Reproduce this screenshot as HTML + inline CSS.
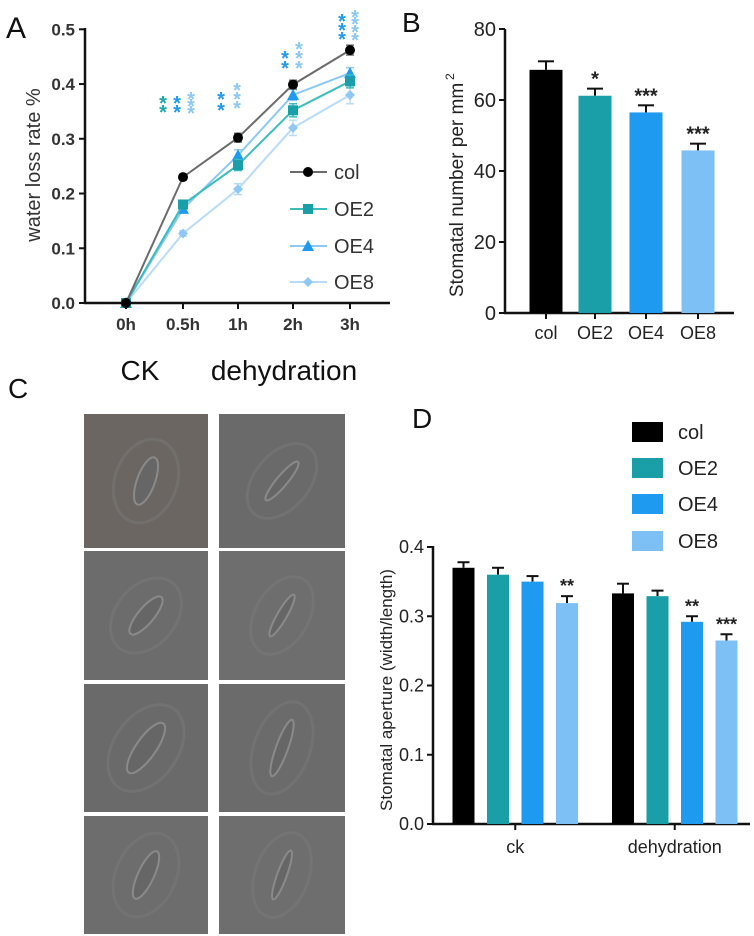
<!DOCTYPE html>
<html><head><meta charset="utf-8">
<style>
html,body{margin:0;padding:0;background:#fff;}
svg{display:block;font-family:"Liberation Sans",Arial,sans-serif;}
</style></head>
<body>
<svg id="fig" width="754" height="936" viewBox="0 0 754 936" xmlns="http://www.w3.org/2000/svg">
<g id="A"></g>
<g id="B"></g>
<g id="C"></g>
<g id="D"></g>
</svg>
<script>
// ---------- Panel A data ----------
const timeLabels = ["0h","0.5h","1h","2h","3h"];
const colLoss = [0, 0.23, 0.302, 0.399, 0.462];
const oe2Loss = [0, 0.18, 0.252, 0.352, 0.405];
const oe4Loss = [0, 0.172, 0.27, 0.38, 0.42];
const oe8Loss = [0, 0.127, 0.208, 0.32, 0.38];
const colLossErr = [0, 0.005, 0.008, 0.008, 0.009];
const oe2LossErr = [0, 0.006, 0.01, 0.012, 0.012];
const oe4LossErr = [0, 0.006, 0.01, 0.01, 0.01];
const oe8LossErr = [0, 0.005, 0.01, 0.014, 0.016];
const aTicks = [0, 0.1, 0.2, 0.3, 0.4, 0.5];
// ---------- Panel B data ----------
const bCats = ["col","OE2","OE4","OE8"];
const bVals = [68.5, 61.2, 56.5, 45.8];
const bErrs = [2.4, 2.0, 2.0, 1.9];
const bStars = ["", "*", "***", "***"];
const bTicks = [0, 20, 40, 60, 80];
// ---------- Panel D data ----------
const dGroups = ["ck","dehydration"];
const dSeries = ["col","OE2","OE4","OE8"];
const dCk = [0.37, 0.36, 0.35, 0.319];
const dDehyd = [0.333, 0.329, 0.292, 0.265];
const dCkErr = [0.008, 0.01, 0.008, 0.01];
const dDehydErr = [0.014, 0.008, 0.008, 0.009];
const dCkStars = ["", "", "", "**"];
const dDehydStars = ["", "", "**", "***"];
const dTicks = [0, 0.1, 0.2, 0.3, 0.4];

const NS = "http://www.w3.org/2000/svg";
function mk(parent, tag, attrs, text){
  const e = document.createElementNS(NS, tag);
  for (const k in attrs) e.setAttribute(k, attrs[k]);
  if (text !== undefined) e.textContent = text;
  parent.appendChild(e);
  return e;
}
const colors = ["#000000","#1a9ea8","#1e9af0","#7cc0f5"];
const lineColors = ["#6b6b6b","#3cbcbc","#8cc8f4","#b8dcf8"];

// ================= Panel A =================
(function(){
  const g = document.getElementById("A");
  const y = v => 303 - v * 547.4;
  const xs = [126, 183, 238, 293, 350];
  const x = i => xs[i];
  let t = mk(g,"text",{x:6,y:38,"font-size":30,fill:"#111"},"A");
  
  
  let ax = mk(g,"line",{x1:85,y1:28,x2:85,y2:304,stroke:"#111","stroke-width":2.5});
   
  ax = mk(g,"line",{x1:84,y1:303,x2:390,y2:303,stroke:"#111","stroke-width":2.5});
   
  aTicks.forEach(v=>{
    mk(g,"line",{x1:79,y1:y(v),x2:85,y2:y(v),stroke:"#111","stroke-width":2});
    const l = mk(g,"text",{x:75,y:y(v)+6,"font-size":17,"font-weight":"bold","text-anchor":"end",fill:"#333"},v.toFixed(1));
     
  });
  timeLabels.forEach((s,i)=>{
    mk(g,"line",{x1:x(i),y1:303,x2:x(i),y2:309,stroke:"#111","stroke-width":2});
    const l = mk(g,"text",{x:x(i),y:330,"font-size":17,"font-weight":"bold","text-anchor":"middle",fill:"#333"},s);
     
  });
  const yt = mk(g,"text",{x:0,y:0,"font-size":20,"text-anchor":"middle",fill:"#333",transform:"translate(40,165) rotate(-90)"},"water loss rate %");
   

  const series = [colLoss, oe2Loss, oe4Loss, oe8Loss];
  const errs = [colLossErr, oe2LossErr, oe4LossErr, oe8LossErr];
  const names = ["col","OE2","OE4","OE8"];
  for (let s = 3; s >= 0; s--){
    const d = series[s].map((v,i)=>x(i)+","+y(v)).join(" ");
    const pl = mk(g,"polyline",{points:d,fill:"none",stroke:lineColors[s],"stroke-width":2});
    
    
    series[s].forEach((v,i)=>{
      const e = errs[s][i];
      if (e>0){
        mk(g,"line",{x1:x(i),y1:y(v-e),x2:x(i),y2:y(v+e),stroke:lineColors[s],"stroke-width":1.5});
        mk(g,"line",{x1:x(i)-4,y1:y(v-e),x2:x(i)+4,y2:y(v-e),stroke:lineColors[s],"stroke-width":1.5});
        mk(g,"line",{x1:x(i)-4,y1:y(v+e),x2:x(i)+4,y2:y(v+e),stroke:lineColors[s],"stroke-width":1.5});
      }
      let m;
      if (s===0) m = mk(g,"circle",{cx:x(i),cy:y(v),r:5,fill:"#000"});
      else if (s===1) m = mk(g,"rect",{x:x(i)-5,y:y(v)-5,width:10,height:10,fill:colors[1]});
      else if (s===2) m = mk(g,"polygon",{points:`${x(i)},${y(v)-6} ${x(i)-6},${y(v)+5} ${x(i)+6},${y(v)+5}`,fill:colors[2]});
      else m = mk(g,"polygon",{points:`${x(i)},${y(v)-5} ${x(i)+5},${y(v)} ${x(i)},${y(v)+5} ${x(i)-5},${y(v)}`,fill:"#8ec8f4"});
      
      
    });
  }
  // significance stars
  const stars = [
    [163,[101,110],"#1aa8a8"],[177,[101,110],"#1e9af0"],[191,[97,104,111],"#8cc8f4"],
    [221,[97,108],"#1e9af0"],[237,[88,97,106],"#8cc8f4"],
    [285,[56,66],"#1e9af0"],[299,[47,56,66],"#8cc8f4"],
    [342,[19,28,37],"#1e9af0"],[355,[15,22,30,38],"#8cc8f4"]
  ];
  stars.forEach(([sx,ys,c])=>ys.forEach(sy=>{
    const st = mk(g,"text",{x:sx,y:sy+9,"font-size":20,"font-weight":"bold","text-anchor":"middle",fill:c},"*");
     
  }));
  // legend
  const ly = [172,209,246,282];
  names.forEach((n,i)=>{
    const lg = mk(g,"g",{});
    
    
    mk(lg,"line",{x1:290,y1:ly[i],x2:327,y2:ly[i],stroke:lineColors[i],"stroke-width":2});
    const cx=308, cy=ly[i];
    if (i===0) mk(lg,"circle",{cx,cy,r:5,fill:"#000"});
    else if (i===1) mk(lg,"rect",{x:cx-5,y:cy-5,width:10,height:10,fill:colors[1]});
    else if (i===2) mk(lg,"polygon",{points:`${cx},${cy-6} ${cx-6},${cy+5} ${cx+6},${cy+5}`,fill:colors[2]});
    else mk(lg,"polygon",{points:`${cx},${cy-5} ${cx+5},${cy} ${cx},${cy+5} ${cx-5},${cy}`,fill:"#8ec8f4"});
    mk(lg,"text",{x:334,y:cy+7,"font-size":20,fill:"#333"},n);
  });
})();

// ================= Panel B =================
(function(){
  const g = document.getElementById("B");
  const y = v => 313 - v * 3.55;
  const cx = [546, 595, 646, 698];
  const bw = 33;
  let t = mk(g,"text",{x:402,y:32,"font-size":28,fill:"#111"},"B");
   
  let ax = mk(g,"line",{x1:505,y1:29,x2:505,y2:314,stroke:"#111","stroke-width":2.5});
   
  ax = mk(g,"line",{x1:504,y1:313,x2:734,y2:313,stroke:"#111","stroke-width":2.5});
   
  bTicks.forEach(v=>{
    mk(g,"line",{x1:499,y1:y(v),x2:505,y2:y(v),stroke:"#111","stroke-width":2});
    const l = mk(g,"text",{x:496,y:y(v)+7,"font-size":20,"text-anchor":"end",fill:"#222"},v);
     
  });
  const yt = mk(g,"text",{x:0,y:0,"font-size":19,"text-anchor":"middle",fill:"#222",transform:"translate(463,190) rotate(-90)"},"Stomatal number per mm");
   
  const sup = mk(g,"text",{x:0,y:0,"font-size":12,fill:"#222",transform:"translate(454,80) rotate(-90)"},"2");
   
  bCats.forEach((c,i)=>{
    const v = bVals[i], e = bErrs[i];
    mk(g,"line",{x1:cx[i],y1:y(v),x2:cx[i],y2:y(v+e),stroke:"#111","stroke-width":2});
    mk(g,"line",{x1:cx[i]-8,y1:y(v+e),x2:cx[i]+8,y2:y(v+e),stroke:"#111","stroke-width":2});
    const r = mk(g,"rect",{x:cx[i]-bw/2,y:y(v),width:bw,height:313-y(v),fill:colors[i]});
     
    mk(g,"line",{x1:cx[i],y1:313,x2:cx[i],y2:319,stroke:"#111","stroke-width":2});
    const l = mk(g,"text",{x:cx[i],y:339,"font-size":18,"text-anchor":"middle",fill:"#222"},c);
     
    if (bStars[i]){
      const s = mk(g,"text",{x:cx[i],y:y(v+e)-3,"font-size":20,"font-weight":"bold","text-anchor":"middle",fill:"#222"},bStars[i]);
       
    }
  });
})();

// ================= Panel C =================
(function(){
  const g = document.getElementById("C");
  let t = mk(g,"text",{x:8,y:398,"font-size":28,fill:"#111"},"C");
   
  t = mk(g,"text",{x:140,y:380,"font-size":28,"text-anchor":"middle",fill:"#111"},"CK");
   
  t = mk(g,"text",{x:284,y:380,"font-size":28,"text-anchor":"middle",fill:"#111"},"dehydration");
   
  const cols = [[84,208],[219,345]];
  const rows = [[414,548],[551,680],[684,812],[816,934]];
  const angles = [[20,40],[40,30],[35,20],[25,20]];
  const sizes = [[9,25],[8,24],[10,30],[8,26]];
  const shades = [["#6b6661","#6a6a6a"],["#6c6c6c","#6e6e6e"],["#6a6a6a","#6b6b6b"],["#6d6d6d","#6e6e6e"]];
  rows.forEach((r,ri)=>cols.forEach((c,ci)=>{
    const im = mk(g,"g",{});
    
    
    mk(im,"rect",{x:c[0],y:r[0],width:c[1]-c[0],height:r[1]-r[0],fill:shades[ri][ci]});
    const mx=(c[0]+c[1])/2, my=(r[0]+r[1])/2;
    const rx = ci===1?sizes[ri][0]*0.6:sizes[ri][0];
    mk(im,"ellipse",{cx:mx,cy:my,rx:rx+22,ry:sizes[ri][1]+18,fill:"none",stroke:"#7a7a7a","stroke-width":3,transform:`rotate(${angles[ri][ci]} ${mx} ${my})`,opacity:0.5});
    mk(im,"ellipse",{cx:mx,cy:my,rx:rx,ry:sizes[ri][1],fill:"#666",stroke:"#8a8a8a","stroke-width":2,transform:`rotate(${angles[ri][ci]} ${mx} ${my})`});
  }));
})();

// ================= Panel D =================
(function(){
  const g = document.getElementById("D");
  const y = v => 824 - v * 692.5;
  const groupStart = [463.5, 623];
  const step = 34.5, bw = 22;
  let t = mk(g,"text",{x:412,y:428,"font-size":28,fill:"#111"},"D");
   
  let ax = mk(g,"line",{x1:433,y1:546,x2:433,y2:825,stroke:"#111","stroke-width":2.5});
   
  ax = mk(g,"line",{x1:432,y1:824,x2:750,y2:824,stroke:"#111","stroke-width":2.5});
   
  dTicks.forEach(v=>{
    mk(g,"line",{x1:427,y1:y(v),x2:433,y2:y(v),stroke:"#111","stroke-width":2});
    const l = mk(g,"text",{x:424,y:y(v)+6,"font-size":18,"text-anchor":"end",fill:"#222"},v.toFixed(1));
     
  });
  const yt = mk(g,"text",{x:0,y:0,"font-size":17,"text-anchor":"middle",fill:"#222",transform:"translate(392,690) rotate(-90)"},"Stomatal aperture (width/length)");
   
  const vals = [dCk, dDehyd], errs = [dCkErr, dDehydErr], stars = [dCkStars, dDehydStars];
  dGroups.forEach((grp,gi)=>{
    dSeries.forEach((s,si)=>{
      const cx = groupStart[gi] + si*step;
      const v = vals[gi][si], e = errs[gi][si];
      mk(g,"line",{x1:cx,y1:y(v),x2:cx,y2:y(v+e),stroke:"#111","stroke-width":2});
      mk(g,"line",{x1:cx-6,y1:y(v+e),x2:cx+6,y2:y(v+e),stroke:"#111","stroke-width":2});
      const r = mk(g,"rect",{x:cx-bw/2,y:y(v),width:bw,height:824-y(v),fill:colors[si]});
       
      if (stars[gi][si]){
        const st = mk(g,"text",{x:cx,y:y(v+e)-4,"font-size":18,"font-weight":"bold","text-anchor":"middle",fill:"#222"},stars[gi][si]);
         
      }
    });
    const gc = groupStart[gi] + 1.5*step;
    mk(g,"line",{x1:gc,y1:824,x2:gc,y2:830,stroke:"#111","stroke-width":2});
    const l = mk(g,"text",{x:gc,y:853,"font-size":18,"text-anchor":"middle",fill:"#222"},grp);
     
  });
  const ly = [432,468,504,541];
  dSeries.forEach((s,i)=>{
    const lg = mk(g,"g",{});
    
    
    mk(lg,"rect",{x:632,y:ly[i]-10,width:31,height:20,fill:colors[i]});
    mk(lg,"text",{x:678,y:ly[i]+7,"font-size":20,fill:"#222"},s);
  });
})();
</script>
</body></html>
